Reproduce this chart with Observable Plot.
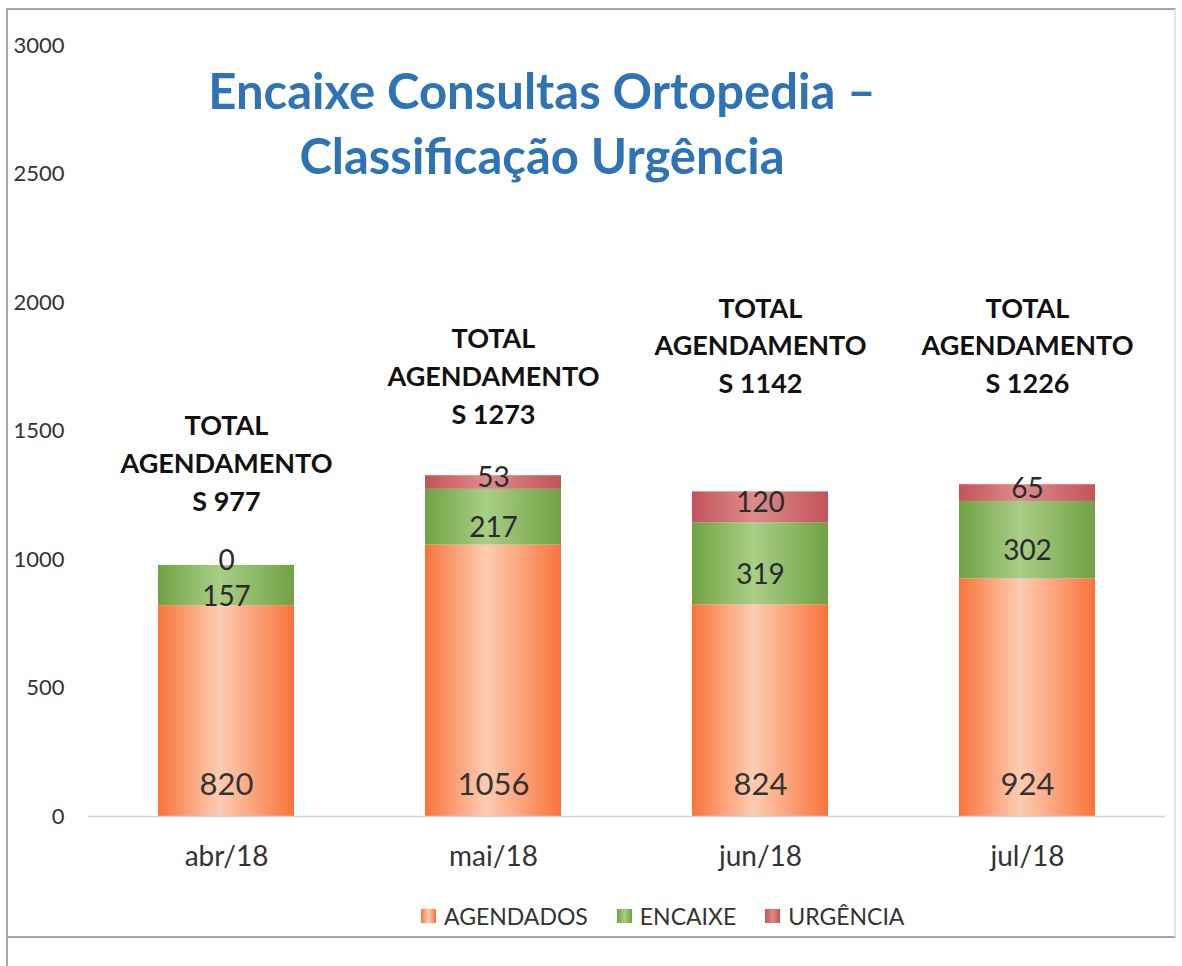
<!DOCTYPE html>
<html>
<head>
<meta charset="utf-8">
<script src="https://cdn.jsdelivr.net/npm/d3@7"></script>
<script src="https://cdn.jsdelivr.net/npm/@observablehq/plot@0.6"></script>
<style>
  html, body { margin: 0; padding: 0; background: #fff; }
  #wrap { position: relative; width: 1182px; height: 966px; overflow: hidden; font-family: Lato, "Open Sans", sans-serif; }
  #frame { position: absolute; left: 6px; top: 8px; width: 1170px; height: 930px; border: 2px solid #a6a6a6; border-right-color: #e4e4e4; box-sizing: border-box; }
  #frameExt { position: absolute; left: 6px; top: 936px; width: 2px; height: 30px; background: #a6a6a6; }
  #title { position: absolute; left: 0; width: 1084px; top: 58px; text-align: center; color: #2E74B5; font-weight: 700; font-size: 49px; line-height: 65px; }
  #legend { position: absolute; left: 421px; top: 901px; display: flex; font-size: 23px; color: #333; line-height: 30px; }
  .item { display: flex; align-items: center; margin-right: 29px; }
  .sw { width: 15px; height: 14px; margin-right: 8px; }
  svg { position: absolute; left: 0; top: 0; }
</style>
</head>
<body>
<div id="wrap">
  <div id="frame"></div>
  <div id="frameExt"></div>
  <div id="chart"></div>
  <div id="title">Encaixe Consultas Ortopedia –<br>Classificação Urgência</div>
  <div id="legend"></div>
</div>
<script>
const months = ["abr/18", "mai/18", "jun/18", "jul/18"];
const categories = ["AGENDADOS", "ENCAIXE", "URGÊNCIA"];
const agendados = [820, 1056, 824, 924];
const encaixe = [157, 217, 319, 302];
const urgencia = [0, 53, 120, 65];
const totals = [977, 1273, 1142, 1226];
const totalLabelLevel = [1190, 1527, 1647, 1647]; // data units where each total label ends
const yTicks = [0, 500, 1000, 1500, 2000, 2500, 3000];

const edgeColors = ["#F9733A", "#70A244", "#C4535A"];
const centerColors = ["#FCCDB3", "#A9CE86", "#DC8C8C"];
const gradIds = ["gAg", "gEn", "gUr"];

const series = [agendados, encaixe, urgencia];
const rows = [];
months.forEach((m, i) => {
  categories.forEach((c, j) => rows.push({month: m, cat: c, value: series[j][i]}));
});
const totalRows = months.map((m, i) => ({month: m, total: totals[i], level: totalLabelLevel[i]}));

const segText = (cat, dy) => Plot.text(rows, Plot.stackY({
  x: "month", y: "value", z: "cat",
  text: d => d.cat === cat ? String(d.value) : "",
  fontSize: 28, fill: "#2b2b2b", dy
}));

const chart = Plot.plot({
  width: 1182,
  height: 966,
  marginLeft: 88,
  marginRight: 17,
  marginTop: 45,
  marginBottom: 150,
  style: {fontFamily: "Lato, 'Open Sans', sans-serif", background: "transparent"},
  x: {domain: months, paddingInner: 0.49, paddingOuter: 0.26, label: null},
  y: {domain: [0, 3000], label: null},
  color: {domain: categories, range: gradIds.map(id => `url(#${id})`)},
  marks: [
    Plot.barY(rows, {x: "month", y: "value", z: "cat", fill: "cat"}),
    Plot.ruleY([0], {stroke: "#d4d4d4", strokeWidth: 1.5}),
    segText("ENCAIXE", 11),
    segText("URGÊNCIA", -4),
    Plot.text(rows.filter(d => d.cat === "AGENDADOS"), {
      x: "month", y: 0, text: d => String(d.value), fontSize: 31, fill: "#333", dy: -31
    }),
    Plot.text(totalRows, {
      x: "month", y: "level",
      text: d => `TOTAL\nAGENDAMENTO\nS ${d.total}`,
      lineAnchor: "bottom", lineHeight: 1.4, fontSize: 27, fontWeight: 700, fill: "#111"
    }),
    Plot.axisY({ticks: yTicks, tickSize: 0, tickPadding: 24, fontSize: 22, fill: "#333", tickFormat: d => String(d)}),
    Plot.axisX({tickSize: 0, tickPadding: 30, fontSize: 28, fill: "#333"})
  ]
});

const ns = "http://www.w3.org/2000/svg";
const defs = document.createElementNS(ns, "defs");
gradIds.forEach((id, i) => {
  const g = document.createElementNS(ns, "linearGradient");
  g.setAttribute("id", id);
  g.setAttribute("x1", "0"); g.setAttribute("x2", "1"); g.setAttribute("y1", "0"); g.setAttribute("y2", "0");
  [[0, edgeColors[i]], [0.45, centerColors[i]], [1, edgeColors[i]]].forEach(([o, c]) => {
    const s = document.createElementNS(ns, "stop");
    s.setAttribute("offset", o);
    s.setAttribute("stop-color", c);
    g.appendChild(s);
  });
  defs.appendChild(g);
});
chart.insertBefore(defs, chart.firstChild);
document.getElementById("chart").appendChild(chart);

const legend = document.getElementById("legend");
categories.forEach((c, i) => {
  const item = document.createElement("div");
  item.className = "item";
  const sw = document.createElement("div");
  sw.className = "sw";
  sw.style.background = `linear-gradient(to right, ${edgeColors[i]}, ${centerColors[i]}, ${edgeColors[i]})`;
  const label = document.createElement("span");
  label.textContent = c;
  item.appendChild(sw);
  item.appendChild(label);
  legend.appendChild(item);
});
</script>
</body>
</html>
